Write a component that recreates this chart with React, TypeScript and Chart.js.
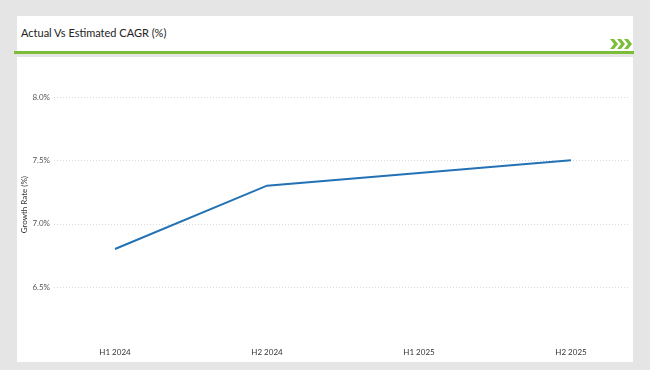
import React, { useEffect, useRef } from "react";
import { Chart, registerables } from "chart.js";

Chart.register(...registerables);

const periods = ["H1 2024", "H2 2024", "H1 2025", "H2 2025"];
const growthRate = [6.8, 7.3, 7.4, 7.5];
const yTicks = [6.5, 7.0, 7.5, 8.0];
const chartTitle = "Actual Vs Estimated CAGR (%)";
const yAxisTitle = "Growth Rate (%)";

const FONT = "Lato, 'Noto Sans', sans-serif";

const gridPlugin = {
  id: "wideGrid",
  beforeDatasetsDraw(chart: any) {
    const { ctx } = chart;
    const y = chart.scales.y;
    ctx.save();
    ctx.strokeStyle = "#dcdcdc";
    ctx.lineWidth = 1;
    ctx.setLineDash([1, 2]);
    yTicks.forEach((v) => {
      const py = Math.round(y.getPixelForValue(v)) + 0.5;
      ctx.beginPath();
      ctx.moveTo(54, py);
      ctx.lineTo(629, py);
      ctx.stroke();
    });
    ctx.restore();
  },
};

export default function App() {
  const ref = useRef<HTMLCanvasElement>(null);
  useEffect(() => {
    const chart = new Chart(ref.current!, {
      type: "line",
      data: {
        labels: periods,
        datasets: [
          {
            data: growthRate,
            borderColor: "#2372b5",
            borderWidth: 2,
            pointRadius: 0,
            tension: 0,
            fill: false,
          },
        ],
      },
      options: {
        animation: false,
        responsive: false,
        events: [],
        layout: { padding: { left: 18, right: 79, top: 71.7, bottom: 0 } },
        plugins: { legend: { display: false }, tooltip: { enabled: false } },
        scales: {
          x: {
            offset: false,
            grid: { display: false, drawTicks: false },
            border: { display: false },
            ticks: { color: "#333", font: { family: FONT, size: 8 }, padding: 10, maxRotation: 0 },
            afterFit: (s: any) => {
              s.height = 32.3;
            },
          },
          y: {
            min: 6.1,
            max: 8.2,
            grid: { display: false, drawTicks: false },
            border: { display: false },
            afterBuildTicks: (s: any) => {
              s.ticks = yTicks.map((v) => ({ value: v }));
            },
            afterFit: (s: any) => {
              s.width = 115 - 18;
              s.paddingTop = 0;
              s.paddingBottom = 0;
            },
            ticks: {
              color: "#555",
              font: { family: FONT, size: 8 },
              padding: 65,
              callback: (v: any) => Number(v).toFixed(1) + "%",
            },
            title: {
              display: true,
              text: yAxisTitle,
              color: "#333",
              font: { family: FONT, size: 8 },
              padding: { top: 2, bottom: 0 },
            },
          },
        },
      },
      plugins: [gridPlugin],
    });
    return () => chart.destroy();
  }, []);

  return (
    <div style={{ position: "fixed", left: 0, top: 0, width: 650, height: 370, background: "#e5e5e5", overflow: "hidden" }}>
      <div style={{ position: "absolute", left: 17, top: 16, width: 616, height: 36, background: "#fff" }} />
      <div
        style={{
          position: "absolute",
          left: 21,
          top: 26,
          fontFamily: FONT,
          fontSize: 11,
          lineHeight: "13px",
          color: "#222",
          whiteSpace: "nowrap",
        }}
      >
        {chartTitle}
      </div>
      <svg style={{ position: "absolute", left: 610, top: 39 }} width={24} height={10}>
        {[0, 7, 14].map((dx) => (
          <polygon key={dx} points={`${dx},0 ${dx + 4},0 ${dx + 8},5 ${dx + 4},10 ${dx},10 ${dx + 4},5`} fill="#7cbd3a" />
        ))}
      </svg>
      <div style={{ position: "absolute", left: 14, top: 51, width: 620, height: 3, background: "#7cbd3a" }} />
      <div style={{ position: "absolute", left: 17, top: 57, width: 616, height: 305, background: "#fff" }} />
      <canvas ref={ref} width={650} height={370} style={{ position: "absolute", left: 0, top: 0 }} />
    </div>
  );
}
